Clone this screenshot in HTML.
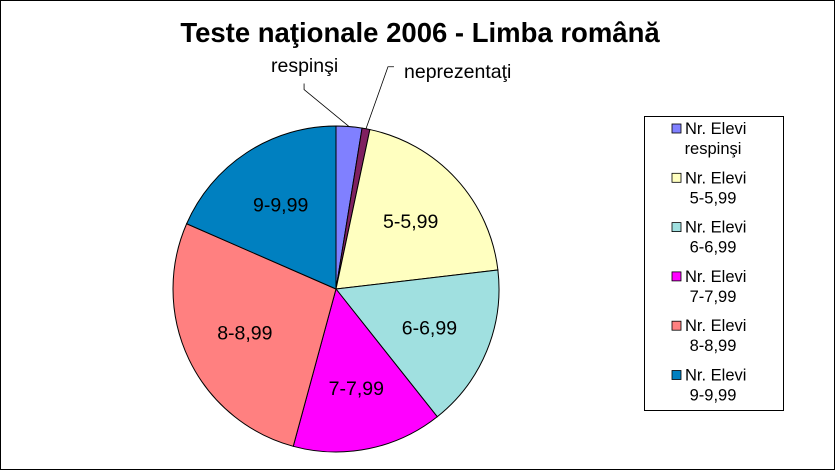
<!DOCTYPE html>
<html><head><meta charset="utf-8"><style>
html,body{margin:0;padding:0;background:#fff}
svg{display:block;font-family:"Liberation Sans",Arial,sans-serif}
</style></head><body>
<svg id="chart" width="835" height="470" viewBox="0 0 835 470">
<rect x="0.5" y="0.5" width="834" height="469" fill="#fff" stroke="#000"/>
<text x="420" y="42" text-anchor="middle" font-size="27.5" font-weight="bold">Teste naţionale 2006 - Limba română</text>
<g id="slices"></g>
<g id="labels"></g>
<g id="legend">
<rect x="644.5" y="116.5" width="139" height="294" fill="#fff" stroke="#000"/>
</g>
</svg>
<script>
const categories = ["respinşi","neprezentaţi","5-5,99","6-6,99","7-7,99","8-8,99","9-9,99"];
const values = [9.2, 2.8, 71.3, 58.3, 53.6, 98.4, 66.4];
const colors = ["#8080ff","#7f2060","#ffffc0","#a0e0e0","#ff00ff","#ff8080","#0080c0"];
const legendCats = ["respinşi","5-5,99","6-6,99","7-7,99","8-8,99","9-9,99"];
const legendColors = ["#8080ff","#ffffc0","#a0e0e0","#ff00ff","#ff8080","#0080c0"];

const NS="http://www.w3.org/2000/svg";
const cx=336, cy=289, r=163;
const total=values.reduce((a,b)=>a+b,0);
function pt(a,rr){return [cx+rr*Math.sin(a), cy-rr*Math.cos(a)];}
const gS=document.getElementById('slices'), gL=document.getElementById('labels');
let acc=0;
values.forEach((v,i)=>{
  const a0=acc/total*2*Math.PI; acc+=v; const a1=acc/total*2*Math.PI;
  const p0=pt(a0,r), p1=pt(a1,r);
  const large=(a1-a0)>Math.PI?1:0;
  const p=document.createElementNS(NS,'path');
  p.setAttribute('d',`M${cx},${cy} L${p0[0]},${p0[1]} A${r},${r} 0 ${large} 1 ${p1[0]},${p1[1]} Z`);
  p.setAttribute('fill',colors[i]); p.setAttribute('stroke','#000'); p.setAttribute('stroke-width','1');
  
  
  gS.appendChild(p);
  const am=(a0+a1)/2;
  const t=document.createElementNS(NS,'text');
  t.setAttribute('font-size','19.5');
  
  
  t.textContent=categories[i];
  if(i<2){
    const e=pt(am,r);
    const ln=document.createElementNS(NS,'polyline');
    let lx, ly;
    if(i===0){ lx=e[0]-45; ly=e[1]-37; ln.setAttribute('points',`${e[0]},${e[1]} ${lx},${ly} ${lx},${ly-6}`); t.setAttribute('x',271); t.setAttribute('y',72); }
    else { lx=e[0]+22; ly=e[1]-62; ln.setAttribute('points',`${e[0]},${e[1]} ${lx},${ly} ${lx+6},${ly}`); t.setAttribute('x',404); t.setAttribute('y',78); }
    ln.setAttribute('fill','none'); ln.setAttribute('stroke','#000'); ln.setAttribute('stroke-width','0.8');
    
    
    gL.appendChild(ln);
  } else {
    const c=pt(am,r*0.62);
    t.setAttribute('x',c[0]); t.setAttribute('y',c[1]+7); t.setAttribute('text-anchor','middle');
  }
  gL.appendChild(t);
});
const gLeg=document.getElementById('legend');
legendCats.forEach((c,i)=>{
  const y=130+i*49.3;
  const m=document.createElementNS(NS,'rect');
  m.setAttribute('x',672); m.setAttribute('y',y-6); m.setAttribute('width',9); m.setAttribute('height',9);
  m.setAttribute('fill',legendColors[i]); m.setAttribute('stroke','#000'); m.setAttribute('stroke-width','0.8');
  
  
  gLeg.appendChild(m);
  const t=document.createElementNS(NS,'text');
  t.setAttribute('font-size','16.5');
  
  
  const s1=document.createElementNS(NS,'tspan'); s1.setAttribute('x',685); s1.setAttribute('y',y+4); s1.textContent='Nr. Elevi';
  const s2=document.createElementNS(NS,'tspan'); s2.setAttribute('x',713); s2.setAttribute('y',y+24); s2.setAttribute('text-anchor','middle'); s2.textContent=c;
  t.appendChild(s1); t.appendChild(s2);
  gLeg.appendChild(t);
});
</script>
</body></html>
